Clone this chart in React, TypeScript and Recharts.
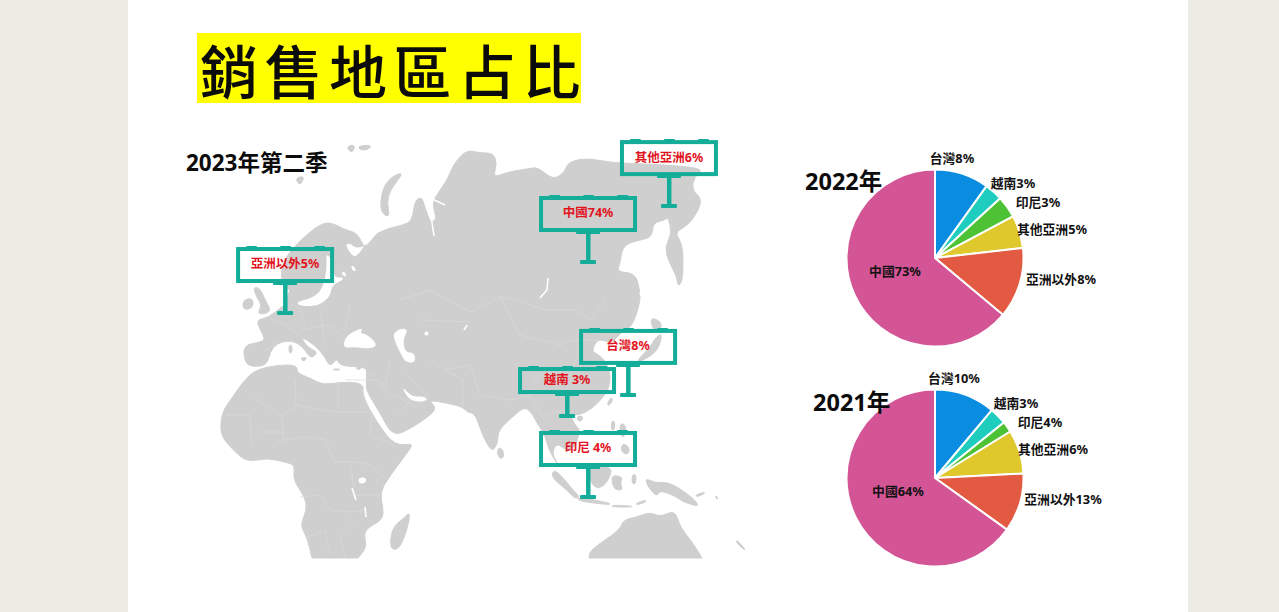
import { Cell, Pie, PieChart, Scatter, ScatterChart, XAxis, YAxis } from "recharts";

const W = 1279;
const H = 612;
const FONT = '"Noto Sans", "Noto Sans CJK TC", sans-serif';
const LAND = "#cfcfcf";
const TEAL = "#14ad9a";

// pies
const categories = ["台灣", "越南", "印尼", "其他亞洲", "亞洲以外", "中國"];
const COLORS = ["#0a8ce0", "#1fcdbf", "#4cc234", "#dfc82c", "#e25a42", "#d45596"];
// slice sizes as drawn
const slices2022 = [9.9, 3.3, 4.0, 6.0, 12.9, 63.9];
const slices2021 = [11.1, 3.1, 2.0, 8.0, 10.7, 65.1];
// percentages as printed (they differ from the drawn sizes in the source slide)
const printed2022 = [8, 3, 3, 5, 8, 73];
const printed2021 = [10, 3, 4, 6, 13, 64];

// billboards on the map
const boardNames = ["亞洲以外5%", "中國74%", "其他亞洲6%", "台灣8%", "越南 3%", "印尼 4%"];
const boardLon = [6.1, 114.3, 143.2, 128.6, 106.8, 114.3];
const boardLat = [48.3, 64, 81.2, 23.1, 16.6, -8.3];

const boards = boardNames.map((name, i) => ({ name, lon: boardLon[i], lat: boardLat[i] }));
const pie2022 = categories.map((name, i) => ({ name, value: slices2022[i], printed: printed2022[i] }));
const pie2021 = categories.map((name, i) => ({ name, value: slices2021[i], printed: printed2021[i] }));

// label centres relative to pie centre
const OFFSETS_2022 = [[17, -99], [78, -74], [103, -55], [117, -28], [126, 22], [-40, 14]];
const OFFSETS_2021 = [[19, -99], [81, -74], [105, -55], [118, -28], [128, 22], [-37, 14]];

// background map outlines, page pixels
const LAND_SHAPES = [
  // eurasia
  "323,222 335,224 343,229 357,233 362,243 365,247 372,240 377,233 390,228 403,225 412,221 415,200 422,197 425,207 430,222 437,220 432,203 440,190 447,180 452,168 457,160 467,150 480,153 493,153 497,163 493,178 507,172 527,169 538,167 553,180 565,172 568,162 587,158 613,163 650,164 705,168 694,177 692,190 703,200 693,220 683,228 675,233 683,245 683,280 678,287 677,277 668,260 665,247 672,233 668,217 665,220 653,223 652,237 640,240 623,245 620,263 617,272 635,273 640,290 640,303 632,327 620,333 612,343 603,340 597,340 592,350 595,353 603,358 610,370 610,385 605,395 593,408 580,415 570,415 575,425 580,430 578,437 575,448 565,450 557,443 552,452 556,462 562,468 557,464 548,448 545,435 537,423 530,410 523,408 517,413 498,430 498,443 492,452 483,437 475,413 468,413 463,407 447,403 428,400 437,408 428,417 413,427 393,437 380,413 367,392 366,384 367,372 365,367 340,366 337,358 330,367 325,357 315,345 300,336 308,348 318,352 312,358 308,355 303,347 292,340 277,343 270,352 267,365 253,367 245,363 243,345 262,342 265,338 255,320 268,318 280,308 288,303 288,290 297,292 298,303 296,296 281,283 282,262 300,240",
  // africa
  "255,370 242,383 232,398 222,412 220,435 233,450 247,462 267,458 285,462 295,465 293,480 305,497 307,510 300,525 307,537 312,558 312,558 358,558 358,558 367,547 363,530 383,520 383,507 380,493 387,480 407,453 414,443 395,446 377,423 362,395 364,383 340,382 323,385 310,378 297,373 297,365 277,365",
  // madagascar
  "410,512 408,527 400,548 392,550 390,542 393,527 405,517",
  // uk, ireland
  "253,287 260,288 265,300 272,312 257,315 262,305 257,298",
  "243,300 253,298 253,308 243,310",
  // arctic islands
  "400,173 390,178 382,190 380,212 390,218 387,203 390,190 402,175",
  "295,178 305,176 300,186",
  "347,146 355,145 353,152 349,151",
  "358,146 372,145 368,150 360,150",
  // sicily, sardinia, crete, cyprus
  "300,358 307,357 304,362",
  "289,345 292,345 292,353 289,353",
  "333,369 340,369 340,370 333,370",
  "355,368 361,367 360,370",
  // sri lanka, hainan, taiwan
  "499,447 503,450 504,457 500,459 497,453",
  "577,416 583,416 582,421 578,421",
  "611,397 613,400 609,406 607,404",
  // japan
  "650,317 662,322 660,332 653,330",
  "662,333 660,345 653,355 637,363 640,357 650,348 655,338",
  // philippines, palawan
  "620,423 626,425 625,437 620,436",
  "622,443 630,447 628,455 621,452",
  "612,420 615,422 614,431 611,429",
  // sumatra, java, borneo, sulawesi
  "553,470 560,474 573,490 580,497 575,499 567,490 552,478",
  "578,497 610,503 610,505 578,501",
  "590,465 612,467 610,477 603,487 595,488 590,480",
  "612,475 623,477 620,483 623,490 615,490 612,483",
  // lesser sunda, timor, moluccas
  "612,505 632,506 632,507 612,507",
  "636,503 646,500 646,502 637,505",
  "632,475 636,474 636,484 632,484",
  // new guinea
  "645,478 655,483 670,482 693,498 700,507 683,502 677,497 660,490 657,497 648,487",
  "695,495 705,492 704,494 697,497",
  // australia
  "589,558 589,558 590,550 620,530 623,520 637,517 650,512 660,517 675,510 680,527 693,543 702,558 702,558",
  // pacific specks
  "715,495 718,498 717,500",
  "737,540 745,549 744,550 736,542",
];

// seas and lakes drawn over the land
const WATER_SHAPES = [
  // baltic
  "326,252 333,262 334,278 343,277 343,280 332,285 330,297 318,306 300,306 296,302 312,298 322,290 327,270",
  // white sea
  "345,245 350,243 355,248 362,247 365,245 358,255 353,257",
  // black sea
  "343,348 345,338 352,332 363,328 360,333 368,335 378,345 370,349 355,347",
  // caspian
  "393,333 402,328 408,330 403,340 405,352 415,353 415,363 405,362 400,352 395,342",
  // gulf
  "403,387 412,397 424,396 428,400 420,402 410,400 404,392",
  // aral, lakes
  "425,331 429,332 428,336 424,335",
  "358,478 366,477 366,483 359,484",
  "342,271 346,273 346,277 342,275",
  "351,265 355,267 356,272 352,270",
];

const WATER_LINES = [
  "424,200 432,222 434,236",
  "430,198 445,205",
  "548,278 547,290 540,298",
  "467,325 464,330",
  "352,488 356,500",
  "365,507 366,517",
  "640,292 650,315",
];

const BORDERS = [
  "295,380 296,405 282,416",
  "338,382 338,412 372,412",
  "250,395 282,416 283,440 272,447",
  "296,405 320,410 338,412",
  "283,440 305,437 325,440 335,462",
  "335,462 355,462 370,465 387,480",
  "350,462 355,495 380,495",
  "300,497 320,495 330,510 350,512 367,510",
  "305,538 325,530 330,555",
  "358,520 340,537 345,558",
  "226,415 250,415 252,448",
  "260,432 285,432",
  "372,412 370,435 395,446",
  "270,318 285,325 300,336",
  "300,330 330,325 345,338",
  "350,305 345,332",
  "300,307 305,325",
  "320,310 325,345",
  "263,352 277,343",
  "390,360 385,385 368,372",
  "405,372 430,400",
  "430,360 445,370 463,380 463,407",
  "445,370 470,365 480,395 510,400 530,395",
  "400,300 430,290 470,312 500,297 515,300 545,310 575,310 590,320 605,300",
  "500,297 520,335 560,345 575,340 597,340",
  "420,320 470,322",
  "540,370 530,395 545,420",
  "545,415 565,410 578,420",
  "395,415 412,400",
  "345,380 375,380 392,395 415,405",
];

// rounds a traced outline by curving through the midpoints of its edges
function smooth(points: string) {
  const pts = points.split(" ").map((p) => p.split(",").map(Number));
  const mid = (a: number[], b: number[]) => [(a[0] + b[0]) / 2, (a[1] + b[1]) / 2];
  const start = mid(pts[pts.length - 1], pts[0]);
  let d = `M${start[0]} ${start[1]}`;
  pts.forEach((p, i) => {
    const m = mid(p, pts[(i + 1) % pts.length]);
    d += ` Q${p[0]} ${p[1]} ${m[0]} ${m[1]}`;
  });
  return d + "Z";
}

function Billboard(props: any) {
  const { cx, cy, payload } = props;
  const low = payload.name === "越南 3%";
  const frameH = low ? 23 : 32;
  const gap = low ? 24 : 32;
  const left = cx - 47;
  const top = cy - gap - frameH;
  const bottom = cy - gap;
  return (
    <g>
      {[10, 44, 78].map((t) => (
        <rect key={t} x={left + t - 2} y={top - 3} width={11} height={3} rx={1} fill={TEAL} />
      ))}
      <rect x={left} y={top} width={94} height={frameH} fill="none" stroke={TEAL} strokeWidth={4} />
      <rect x={cx - 12} y={bottom} width={24} height={4} rx={1} fill={TEAL} />
      <rect x={cx - 2} y={bottom} width={4.5} height={gap} fill={TEAL} />
      <rect x={cx - 8} y={cy - 2} width={16} height={4} rx={1} fill={TEAL} />
      <text
        x={cx}
        y={top + frameH / 2}
        textAnchor="middle"
        dominantBaseline="middle"
        fontFamily={FONT}
        fontWeight={700}
        fontSize={12.5}
        fill="#e2131d"
      >
        {payload.name}
      </text>
    </g>
  );
}

const pieLabel = (offsets: number[][]) => (props: any) => {
  const { cx, cy, index, name, payload } = props;
  const row = payload?.payload ?? payload;
  return (
    <text
      x={cx + offsets[index][0]}
      y={cy + offsets[index][1]}
      textAnchor="middle"
      dominantBaseline="middle"
      fontFamily={FONT}
      fontWeight={700}
      fontSize={12.8}
      fill="#111"
    >
      {`${row?.name ?? name}${row?.printed}%`}
    </text>
  );
};

function Caption({ x, y, size, children }: any) {
  return (
    <div
      style={{
        position: "absolute",
        left: x,
        top: y,
        fontFamily: FONT,
        fontWeight: 700,
        fontSize: size,
        lineHeight: 1,
        color: "#0c0c0c",
        whiteSpace: "nowrap",
      }}
    >
      {children}
    </div>
  );
}

export default function App() {
  return (
    <div style={{ position: "fixed", left: 0, top: 0, width: W, height: H, background: "#ecebe4", overflow: "hidden" }}>
      <div style={{ position: "absolute", left: 128, top: 0, width: 1060, height: H, background: "#fff" }} />

      <div style={{ position: "absolute", left: 197, top: 33, width: 384, height: 70, background: "#ffff00" }} />
      <div
        style={{
          position: "absolute",
          left: 200,
          top: 33,
          fontFamily: '"Noto Sans CJK TC", sans-serif',
          fontWeight: 500,
          fontSize: 58,
          lineHeight: "73px",
          letterSpacing: 6.5,
          color: "#0b0b0b",
          whiteSpace: "nowrap",
        }}
      >
        銷售地區占比
      </div>

      <svg width={W} height={H} style={{ position: "absolute", left: 0, top: 0, filter: "blur(0.4px)" }}>
        {LAND_SHAPES.map((p, i) => (
          <path key={i} d={smooth(p)} fill={LAND} stroke={LAND} strokeWidth={1} strokeLinejoin="round" />
        ))}
        {BORDERS.map((p, i) => (
          <polyline key={i} points={p} fill="none" stroke="#dadada" strokeWidth={0.7} />
        ))}
        {WATER_SHAPES.map((p, i) => (
          <path key={i} d={smooth(p)} fill="#fff" />
        ))}
        {WATER_LINES.map((p, i) => (
          <polyline key={i} points={p} fill="none" stroke="#fff" strokeWidth={1.6} />
        ))}
      </svg>

      <div style={{ position: "absolute", left: 0, top: 0 }}>
        <ScatterChart width={W} height={H} margin={{ top: 0, right: 0, bottom: 0, left: 0 }}>
          <XAxis type="number" dataKey="lon" hide domain={[-268 / 2.8, (W - 268) / 2.8]} />
          <YAxis type="number" dataKey="lat" hide domain={[(470 - H) / 3.25, 470 / 3.25]} />
          <Scatter data={boards} shape={Billboard} isAnimationActive={false} />
        </ScatterChart>
      </div>

      <div style={{ position: "absolute", left: 0, top: 0 }}>
        <PieChart width={W} height={H} margin={{ top: 0, right: 0, bottom: 0, left: 0 }}>
          <Pie
            data={pie2022}
            dataKey="value"
            nameKey="name"
            cx={935}
            cy={258}
            outerRadius={88.5}
            startAngle={90}
            endAngle={-270}
            stroke="#fff"
            strokeWidth={2}
            label={pieLabel(OFFSETS_2022)}
            labelLine={false}
            isAnimationActive={false}
          >
            {COLORS.map((c) => (
              <Cell key={c} fill={c} />
            ))}
          </Pie>
          <Pie
            data={pie2021}
            dataKey="value"
            nameKey="name"
            cx={935}
            cy={478}
            outerRadius={88.5}
            startAngle={90}
            endAngle={-270}
            stroke="#fff"
            strokeWidth={2}
            label={pieLabel(OFFSETS_2021)}
            labelLine={false}
            isAnimationActive={false}
          >
            {COLORS.map((c) => (
              <Cell key={c} fill={c} />
            ))}
          </Pie>
        </PieChart>
      </div>

      <Caption x={186} y={152} size={22.5}>2023年第二季</Caption>
      <Caption x={805} y={170} size={23.5}>2022年</Caption>
      <Caption x={813} y={391} size={23.5}>2021年</Caption>
    </div>
  );
}
